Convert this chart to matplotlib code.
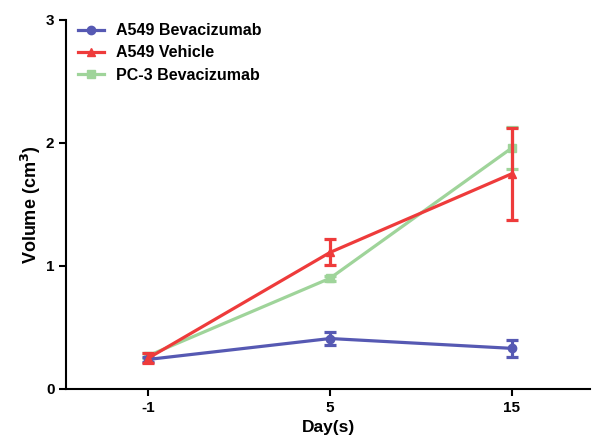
import numpy as np
import matplotlib.pyplot as plt
from matplotlib.lines import Line2D

plt.rcParams['font.family'] = ['Liberation Sans', 'DejaVu Sans']
plt.rcParams['font.weight'] = 'bold'

days = ['-1', '5', '15']
a549_bev = [0.24, 0.41, 0.33]
a549_bev_err = [0.02, 0.05, 0.07]
a549_veh = [0.25, 1.11, 1.75]
a549_veh_err = [0.04, 0.105, 0.375]
pc3_bev = [0.27, 0.90, 1.96]
pc3_bev_err = [0.02, 0.02, 0.17]

blue = '#5659b3'
red = '#ee3b3b'
green = '#9fd49a'

fig = plt.figure(figsize=(5.92, 4.42), dpi=100)
ax = fig.add_axes([0.112, 0.12, 0.885, 0.835])

x = np.arange(len(days))
style = dict(ms=6, lw=2.3, capsize=4, capthick=2.3, elinewidth=2.3)
ax.errorbar(x, a549_bev, yerr=a549_bev_err, color=blue, marker='o', zorder=3, **style)
ax.errorbar(x, pc3_bev, yerr=pc3_bev_err, color=green, marker='s', zorder=2, **style)
ax.errorbar(x, a549_veh, yerr=a549_veh_err, color=red, marker='^', zorder=4, **style)

ax.set_xlim(-0.45, 2.43)
ax.set_ylim(0, 3)
ax.set_xticks(x)
ax.set_xticklabels(days)
ax.set_yticks([0, 1, 2, 3])
ax.spines['top'].set_visible(False)
ax.spines['right'].set_visible(False)
for s in ['left', 'bottom']:
    ax.spines[s].set_linewidth(1.5)
ax.tick_params(width=1.5, length=5, labelsize=11)
for t in ax.get_xticklabels() + ax.get_yticklabels():
    t.set_fontweight('bold')

ax.set_xlabel('Day(s)', fontsize=12.5, fontweight='bold', labelpad=4)
ax.set_ylabel('Volume (cm$^3$)', fontsize=13, fontweight='bold', labelpad=2)

handles = [
    Line2D([], [], color=blue, marker='o', ms=6, lw=2.3),
    Line2D([], [], color=red, marker='^', ms=6, lw=2.3),
    Line2D([], [], color=green, marker='s', ms=6, lw=2.3),
]
labels = ['A549 Bevacizumab', 'A549 Vehicle', 'PC-3 Bevacizumab']
ax.legend(handles, labels, loc='upper left', bbox_to_anchor=(-0.005, 1.03),
          frameon=False, handlelength=1.6, handletextpad=0.8, labelspacing=0.45,
          prop={'weight': 'bold', 'size': 11.5})

fig.savefig('out.png', dpi=100)
